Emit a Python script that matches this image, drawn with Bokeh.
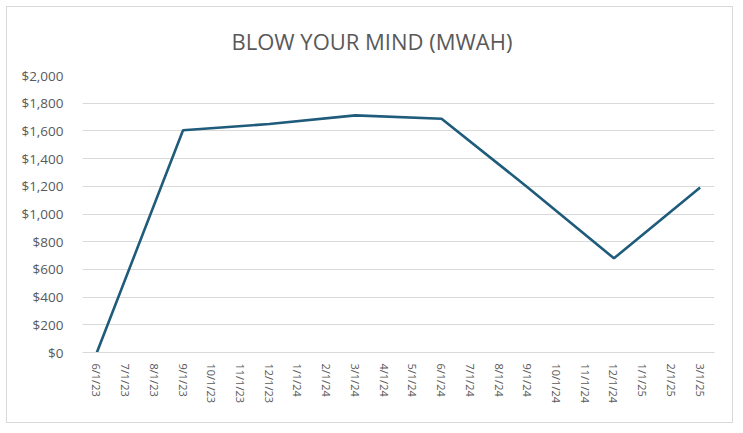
from bokeh.plotting import figure
from bokeh.models import FactorRange, Range1d, NumeralTickFormatter, Title, FixedTicker
from bokeh.embed import file_html
from bokeh.resources import INLINE

months = ["6/1/23", "7/1/23", "8/1/23", "9/1/23", "10/1/23", "11/1/23", "12/1/23",
          "1/1/24", "2/1/24", "3/1/24", "4/1/24", "5/1/24", "6/1/24", "7/1/24",
          "8/1/24", "9/1/24", "10/1/24", "11/1/24", "12/1/24", "1/1/25", "2/1/25", "3/1/25"]
dates = ["6/1/23", "9/1/23", "12/1/23", "3/1/24", "6/1/24", "9/1/24", "12/1/24", "3/1/25"]
values = [0, 1605, 1650, 1712, 1688, 1192, 680, 1192]
y_ticks = [0, 200, 400, 600, 800, 1000, 1200, 1400, 1600, 1800, 2000]

FONT = "Open Sans"
GRAY = "#595959"

p = figure(width=727, height=417, x_range=FactorRange(*months, range_padding=0),
           y_range=Range1d(0, 2000), output_backend="svg", toolbar_location=None,
           min_border_left=75, min_border_right=20, min_border_top=67, min_border_bottom=72)
p.styles = {"border": "1px solid #d9d9d9", "margin-left": "6px", "margin-top": "6px"}
p.outline_line_color = None
p.background_fill_color = "white"

t = Title(text="BLOW YOUR MIND (MWAH)", align="left", vertical_align="top",
          text_font=FONT, text_font_size="22px", text_color=GRAY,
          text_font_style="normal", standoff=36, offset=149)
p.add_layout(t, "above")

p.line(x=dates, y=values, line_color="#1f5b7a", line_width=2.6)

p.xgrid.grid_line_color = None
p.ygrid.grid_line_color = "#d9d9d9"
p.ygrid.grid_line_width = 1.2
p.yaxis.ticker = FixedTicker(ticks=y_ticks)
p.yaxis.formatter = NumeralTickFormatter(format="$0,0")
for ax in (p.xaxis, p.yaxis):
    ax.axis_line_color = None
    ax.major_tick_line_color = None
    ax.minor_tick_line_color = None
    ax.major_label_text_font = FONT
    ax.major_label_text_color = GRAY
p.yaxis.major_label_text_font_size = "13.5px"
p.yaxis.major_label_standoff = 13
p.xaxis.major_label_text_font_size = "11px"
p.xaxis.major_label_orientation = "vertical"
p.xaxis.major_label_standoff = 5
p.xaxis.axis_line_color = "#d9d9d9"
p.xaxis.axis_line_width = 1.2

open("out.html", "w").write(file_html(p, INLINE))
